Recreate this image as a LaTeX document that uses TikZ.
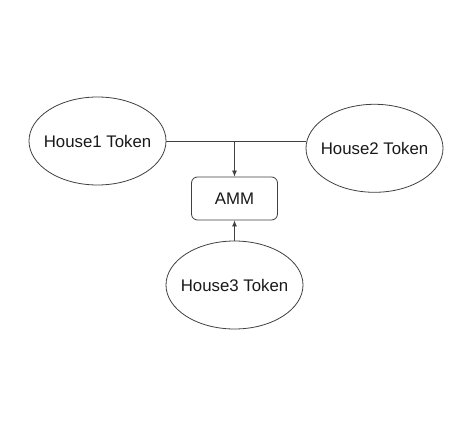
\documentclass[tikz,border=0pt]{standalone}
\usepackage{fontspec}
\setmainfont{Liberation Sans}
\usetikzlibrary{shapes.geometric, arrows.meta}
\tikzstyle{token} = [ellipse, draw=black!75, line width=0.8bp, minimum width=137bp, minimum height=88bp, inner xsep=-12bp, text=black!90, font=\fontsize{16.8bp}{20bp}\selectfont]
\tikzstyle{rect} = [rectangle, draw=black!75, line width=0.8bp, rounded corners=6bp, minimum width=86bp, minimum height=43bp, text=black!90, font=\fontsize{16.8bp}{20bp}\selectfont]
\tikzstyle{link} = [draw=black!75, line width=0.8bp]

\begin{document}
\begin{tikzpicture}[x=1bp, y=-1bp, >={Latex[length=6bp, width=5bp]}]
            \fill[white] (0,0) rectangle (470,440);
            \useasboundingbox (0,0) rectangle (470,440);

            \node (H1) [token] at (97.5,141) {House1 Token};
            \node (H2) [token] at (374.5,148.3) {House2 Token};
            \node (AMM) [rect] at (234.5,198.5) {AMM};
            \node (H3) [token] at (234.5,285) {House3 Token};

            \coordinate (J) at (AMM.north |- H1.east);

            \draw [link] (H1.east) -- (H2.west |- H1.east);
            \draw [link, ->] (J) -- (AMM.north);
            \draw [link, ->] (H3.north) -- (AMM.south);
        \end{tikzpicture}
\end{document}
